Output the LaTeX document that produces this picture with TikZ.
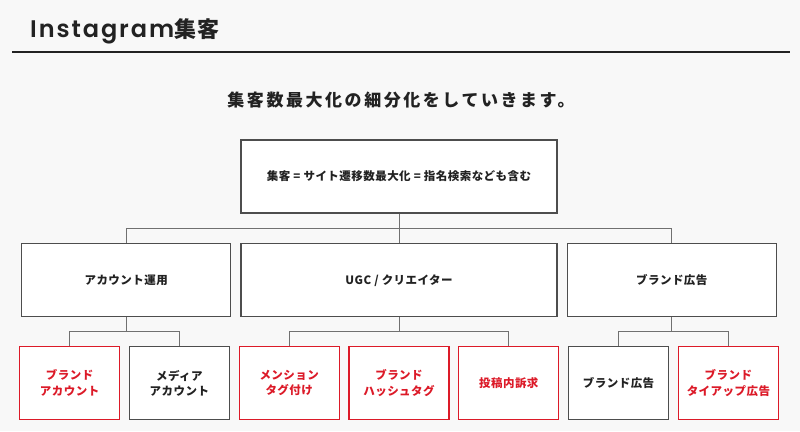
\documentclass[tikz,border=0pt]{standalone}
\usepackage{fontspec}
\usetikzlibrary{positioning,calc}
\newfontfamily\jpfont{Noto Sans CJK JP}[LetterSpace=4]
\newfontfamily\jpwide{Noto Sans CJK JP}[LetterSpace=15]
\newfontfamily\jptitle{Noto Sans CJK JP}[LetterSpace=6]
\newfontfamily\titlefont{Poppins SemiBold}[LetterSpace=8]
\definecolor{brandred}{HTML}{DC1A28}
\definecolor{boxgray}{HTML}{4D4D4D}
\definecolor{linegray}{HTML}{707070}
\definecolor{bggray}{HTML}{F8F8F8}
\definecolor{ink}{HTML}{222222}

\tikzset{
    box/.style={draw=boxgray, fill=white, line width=1.3pt, minimum height=73pt,
        inner sep=0pt, align=center, text=ink,
        font=\jpfont\bfseries\fontsize{11.5}{15.5}\selectfont},
    bigbox/.style={box, minimum width=316pt},
    midbox/.style={box, minimum width=209pt},
    leafbox/.style={box, minimum width=100pt, minimum height=73pt},
    redleaf/.style={leafbox, draw=brandred, text=brandred},
    link/.style={draw=linegray, line width=0.9pt},
}

\begin{document}
\begin{tikzpicture}[x=1pt,y=1pt]
    \fill[bggray] (0,0) rectangle (800,-431);
    \useasboundingbox (0,0) rectangle (800,-431);

    \node[anchor=base west, inner sep=0pt, text=ink] (title) at (30,-37)
        {{\titlefont\fontsize{24}{28}\selectfont Instagram}{\jptitle\bfseries\fontsize{22}{28}\selectfont 集客}};
    \coordinate (rulel) at (12,-52);
    \coordinate (ruler) at (790,-52);
    \draw[line width=1.8pt, ink] (rulel) -- (ruler);

    \node[text=ink, font=\jpwide\bfseries\fontsize{17}{20}\selectfont] (lead) at (401,-100)
        {集客数最大化の細分化をしていきます。};

    \node[bigbox] (goal) at (399,-176.5) {集客 = サイト遷移数最大化 = 指名検索なども含む};

    \node[bigbox, below=29.5pt of goal] (m2) {UGC / クリエイター};
    \node[midbox, left=9pt of m2] (m1) {アカウント運用};
    \node[midbox, right=9pt of m2] (m3) {ブランド広告};

    \node[redleaf, below=28.5pt of m2] (b4) {ブランド\\ハッシュタグ};
    \node[redleaf, left=8.5pt of b4] (b3) {メンション\\タグ付け};
    \node[leafbox, left=8.5pt of b3] (b2) {メディア\\アカウント};
    \node[redleaf, left=8.5pt of b2] (b1) {ブランド\\アカウント};
    \node[redleaf, right=8.5pt of b4] (b5) {投稿内訴求};
    \node[leafbox, right=8.5pt of b5] (b6) {ブランド広告};
    \node[redleaf, right=8.5pt of b6] (b7) {ブランド\\タイアップ広告};

    \coordinate (j0) at ($(goal.south)!.5!(m2.north)$);
    \coordinate (j1) at ($(m1.south)!.5!(m1.south |- b1.north)$);
    \coordinate (j2) at ($(m2.south)!.5!(b4.north)$);
    \coordinate (j3) at ($(m3.south)!.5!(m3.south |- b6.north)$);

    \draw[link] (goal.south) -- (m2.north);
    \draw[link] (m1.north) |- (j0) -| (m3.north);
    \draw[link] (m1.south) -- (j1);
    \draw[link] (b1.north) |- (j1) -| (b2.north);
    \draw[link] (m2.south) -- (j2);
    \draw[link] (b3.north) |- (j2) -| (b5.north);
    \draw[link] (m3.south) -- (j3);
    \draw[link] (b6.north) |- (j3) -| (b7.north);
\end{tikzpicture}
\end{document}
